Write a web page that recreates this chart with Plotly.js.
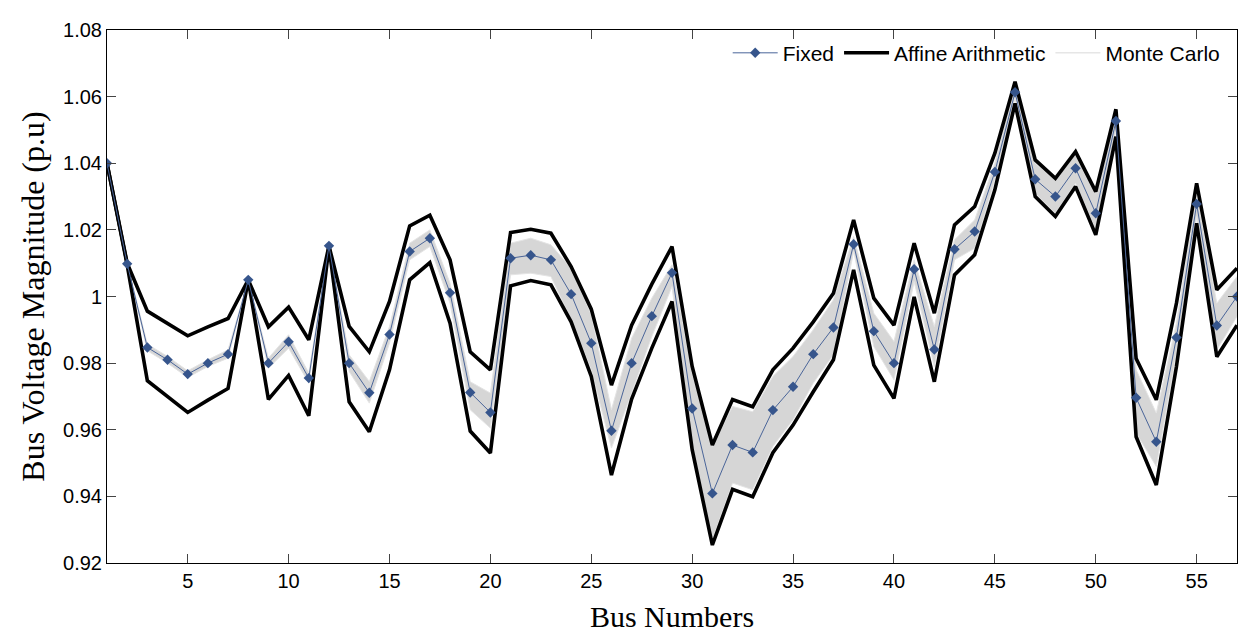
<!DOCTYPE html>
<html>
<head>
<meta charset="utf-8">
<script src="https://cdn.plot.ly/plotly-3.0.1.min.js"></script>
<style>
html,body{margin:0;padding:0;background:#fff;}
#chart{width:1239px;height:633px;}
</style>
</head>
<body>
<div id="chart"></div>
<script>
var buses = [];
for (var i = 1; i <= 57; i++) buses.push(i);

var fixedV = [1.040,1.0098,0.9847,0.981,0.9767,0.980,0.9827,1.005,0.980,0.9864,0.9755,1.0152,0.980,0.9711,0.9886,1.0135,1.0175,1.0011,0.9712,0.9652,1.0115,1.0124,1.011,1.0007,0.986,0.9597,0.980,0.9941,1.0071,0.9664,0.9409,0.9554,0.9532,0.9659,0.9729,0.9827,0.9907,1.0157,0.9896,0.980,1.0082,0.9841,1.0142,1.0195,1.0374,1.0613,1.0352,1.030,1.0385,1.025,1.0527,0.9696,0.9564,0.9877,1.0278,0.9913,1.000];

var affineUpper = [1.040,1.010,0.9956,0.992,0.9882,0.9909,0.9934,1.005,0.9909,0.9968,0.987,1.0152,0.991,0.9834,0.9985,1.0212,1.0244,1.011,0.9834,0.978,1.0192,1.0202,1.019,1.009,0.9962,0.9734,0.9914,1.0037,1.015,0.979,0.9554,0.9691,0.9669,0.978,0.9845,0.9924,1.001,1.023,0.9995,0.9914,1.016,0.995,1.0215,1.027,1.043,1.0645,1.041,1.0355,1.0435,1.0315,1.0562,0.9814,0.969,0.998,1.034,1.002,1.0085];

var affineLower = [1.040,1.0095,0.9747,0.9701,0.9652,0.9689,0.9724,1.005,0.9691,0.9763,0.9642,1.015,0.9684,0.9594,0.978,1.005,1.0102,0.992,0.9596,0.953,1.0032,1.0048,1.0035,0.9924,0.976,0.9464,0.9692,0.9845,0.9985,0.954,0.9254,0.9421,0.9399,0.9531,0.9614,0.9714,0.981,1.008,0.9794,0.9694,0.9999,0.9744,1.0065,1.0125,1.032,1.058,1.030,1.024,1.033,1.0185,1.048,0.9579,0.9434,0.979,1.022,0.9819,0.9914];

var mcHigh = [1.040,1.0099,0.9857,0.982,0.9777,0.981,0.984,1.005,0.9815,0.9885,0.977,1.0152,0.9825,0.9745,0.991,1.016,1.020,1.004,0.9744,0.971,1.016,1.0175,1.0155,1.0085,0.9945,0.966,0.9875,0.9995,1.0095,0.977,0.955,0.967,0.9654,0.976,0.982,0.990,0.999,1.018,0.995,0.9865,1.011,0.991,1.017,1.023,1.040,1.063,1.040,1.035,1.043,1.031,1.0545,0.978,0.965,0.992,1.031,0.998,1.006];

var mcLow = [1.040,1.0097,0.9837,0.980,0.9757,0.979,0.9815,1.005,0.9785,0.9845,0.974,1.0152,0.9775,0.968,0.986,1.011,1.015,0.998,0.966,0.9605,1.0065,1.007,1.006,0.993,0.978,0.9545,0.971,0.988,1.003,0.9555,0.927,0.944,0.942,0.955,0.963,0.974,0.9825,1.0135,0.985,0.975,1.0045,0.979,1.011,1.0145,1.035,1.0595,1.031,1.025,1.034,1.020,1.050,0.959,0.949,0.983,1.024,0.984,0.994];

var xTicks = [5,10,15,20,25,30,35,40,45,50,55];
var yTicks = [0.92,0.94,0.96,0.98,1.00,1.02,1.04,1.06,1.08];
var yTickText = ["0.92","0.94","0.96","0.98","1","1.02","1.04","1.06","1.08"];

var traces = [
  {x: buses, y: mcLow, mode: 'lines', line: {color: '#e4e4e4', width: 1}, showlegend: false, hoverinfo: 'skip'},
  {x: buses, y: mcHigh, mode: 'lines', line: {color: '#e4e4e4', width: 1}, fill: 'tonexty', fillcolor: '#d6d6d6', showlegend: false, hoverinfo: 'skip'},
  {x: buses, y: affineUpper, mode: 'lines', name: 'Affine Arithmetic', legendgroup: 'aa', line: {color: '#000000', width: 3.6}, showlegend: false},
  {x: buses, y: affineLower, mode: 'lines', name: 'Affine Arithmetic', legendgroup: 'aa', line: {color: '#000000', width: 3.6}, showlegend: false},
  {x: buses, y: fixedV, mode: 'lines+markers', name: 'Fixed', line: {color: '#4a6599', width: 1}, marker: {symbol: 'diamond', size: 8, color: '#36558c'}},
  {x: [null], y: [null], mode: 'lines', name: 'Affine Arithmetic', line: {color: '#000000', width: 3.6}},
  {x: [null], y: [null], mode: 'lines', name: 'Monte Carlo', line: {color: '#e6e6e6', width: 1.5}}
];

var layout = {
  width: 1239, height: 633,
  margin: {l: 107, r: 2, t: 30, b: 70},
  paper_bgcolor: '#ffffff', plot_bgcolor: '#ffffff',
  showlegend: true,
  legend: {orientation: 'h', x: 0.99, xanchor: 'right', y: 0.995, yanchor: 'top',
           bgcolor: 'rgba(0,0,0,0)', font: {family: 'Liberation Sans, Arial, sans-serif', size: 21, color: '#000'},
           traceorder: 'normal', itemwidth: 45},
  xaxis: {
    range: [1, 57], tickvals: xTicks, ticks: 'inside', ticklen: 9, tickcolor: '#444',
    showline: true, linecolor: '#000', linewidth: 1, mirror: 'ticks', showgrid: false, zeroline: false,
    tickfont: {family: 'Liberation Sans, Arial, sans-serif', size: 20, color: '#000'},
    title: {text: 'Bus Numbers', font: {family: 'Liberation Serif, Times New Roman, serif', size: 30, color: '#000'}, standoff: 16}
  },
  yaxis: {
    range: [0.92, 1.08], tickvals: yTicks, ticktext: yTickText, ticks: 'inside', ticklen: 9, tickcolor: '#444',
    showline: true, linecolor: '#000', linewidth: 1, mirror: 'ticks', showgrid: false, zeroline: false,
    tickfont: {family: 'Liberation Sans, Arial, sans-serif', size: 20, color: '#000'},
    title: {text: 'Bus Voltage Magnitude (p.u)', font: {family: 'Liberation Serif, Times New Roman, serif', size: 32, color: '#000'}, standoff: 8}
  }
};

Plotly.newPlot('chart', traces, layout, {displayModeBar: false, staticPlot: true});
</script>
</body>
</html>
